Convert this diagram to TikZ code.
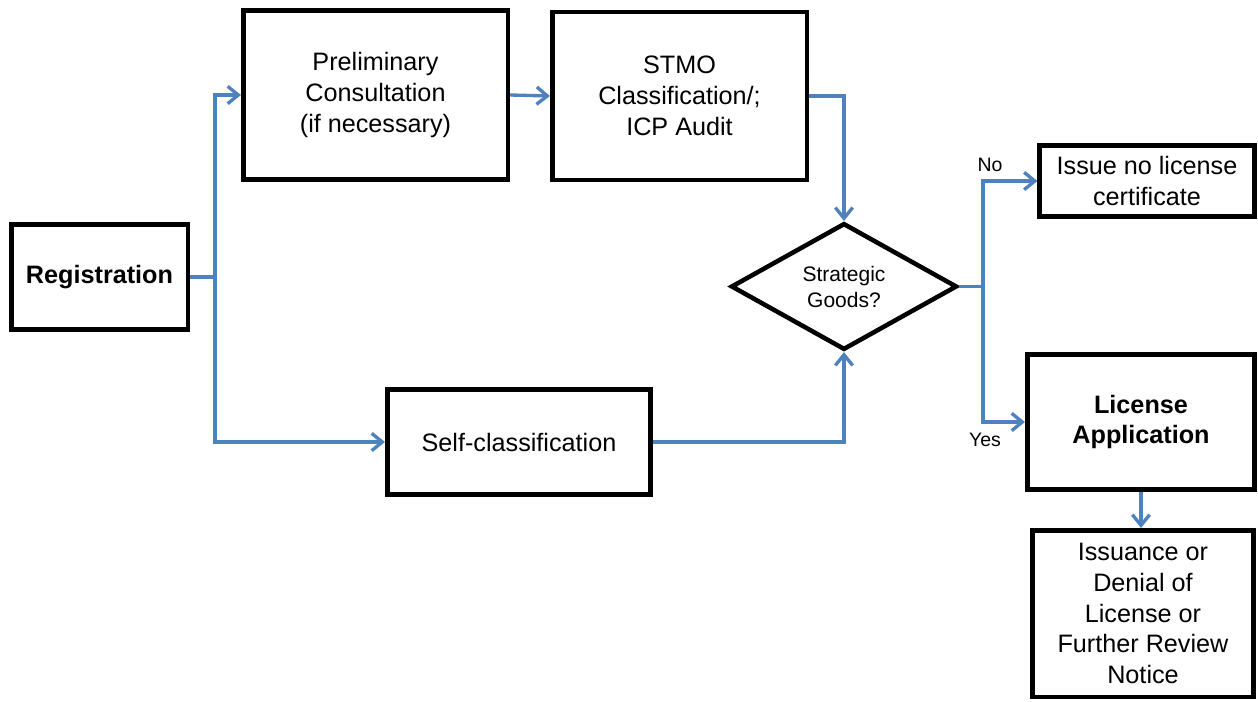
\documentclass[tikz,border=0pt]{standalone}
\usepackage{fontspec}
\setmainfont{Liberation Sans}
\usetikzlibrary{arrows.meta,shapes.geometric}
\definecolor{flowblue}{HTML}{4F81BD}
\tikzset{
  box/.style={draw=black, line width=3.4pt, rectangle, align=center, inner sep=2pt,
    font=\fontsize{18.9}{23.2}\selectfont},
  decision/.style={draw=black, line width=3.4pt, diamond, align=center, inner sep=0pt,
    font=\fontsize{15.75}{19.5}\selectfont},
  flow/.style={draw=flowblue, line width=2.5pt},
  flowarrow/.style={flow, -{Straight Barb[length=8pt,width=13pt,line width=2.5pt]}},
  tag/.style={font=\fontsize{14.6}{17}\selectfont, inner sep=0pt}
}
\begin{document}
\begin{tikzpicture}[x=0.75pt,y=-0.75pt]
\useasboundingbox (0,0) rectangle (1258,702);
\node[box, minimum width=132.4pt, minimum height=79.1pt] (reg) at (99.5,277) {\textbf{Registration}};
\node[box, minimum width=198.4pt, minimum height=127.1pt] (prelim) at (375.5,95) {Preliminary\\Consultation\\(if necessary)};
\node[box, minimum width=190.9pt, minimum height=126pt] (stmo) at (679.5,96) {STMO\\Classification/;\\ICP Audit};
\node[box, minimum width=197.6pt, minimum height=79.1pt] (self) at (519,442) {Self-classification};
\node[decision, minimum width=169.5pt, minimum height=95pt] (dia) at (844,286.5) {Strategic\\Goods?};
\node[box, minimum width=160.9pt, minimum height=53.6pt] (nolic) at (1147,181) {Issue no license\\certificate};
\node[box, minimum width=170.6pt, minimum height=101.6pt] (lic) at (1141,422) {\textbf{License}\\\textbf{Application}};
\node[box, minimum width=165.4pt, minimum height=124.9pt] (iss) at (1143,613.5) {Issuance or\\Denial of\\License or\\Further Review\\Notice};
\coordinate (j1) at (215,277);
\coordinate (j2) at (983,286.5);
\node[tag] (no) at (990,165) {No};
\node[tag] (yes) at (985,440) {Yes};
\draw[flow] (reg.east) -- (j1);
\draw[flowarrow] (j1) |- (prelim.west);
\draw[flowarrow] (j1) |- (self.west);
\draw[flowarrow] (prelim.east) -- (stmo.west);
\draw[flowarrow] (stmo.east) -| (dia.north);
\draw[flowarrow] (self.east) -| (dia.south);
\draw[flow] (dia.east) -- (j2);
\draw[flowarrow] (j2) |- (nolic.west);
\draw[flowarrow] (j2) |- (lic.west);
\draw[flowarrow] (lic.south) -- (lic.south |- iss.north);
\end{tikzpicture}
\end{document}
